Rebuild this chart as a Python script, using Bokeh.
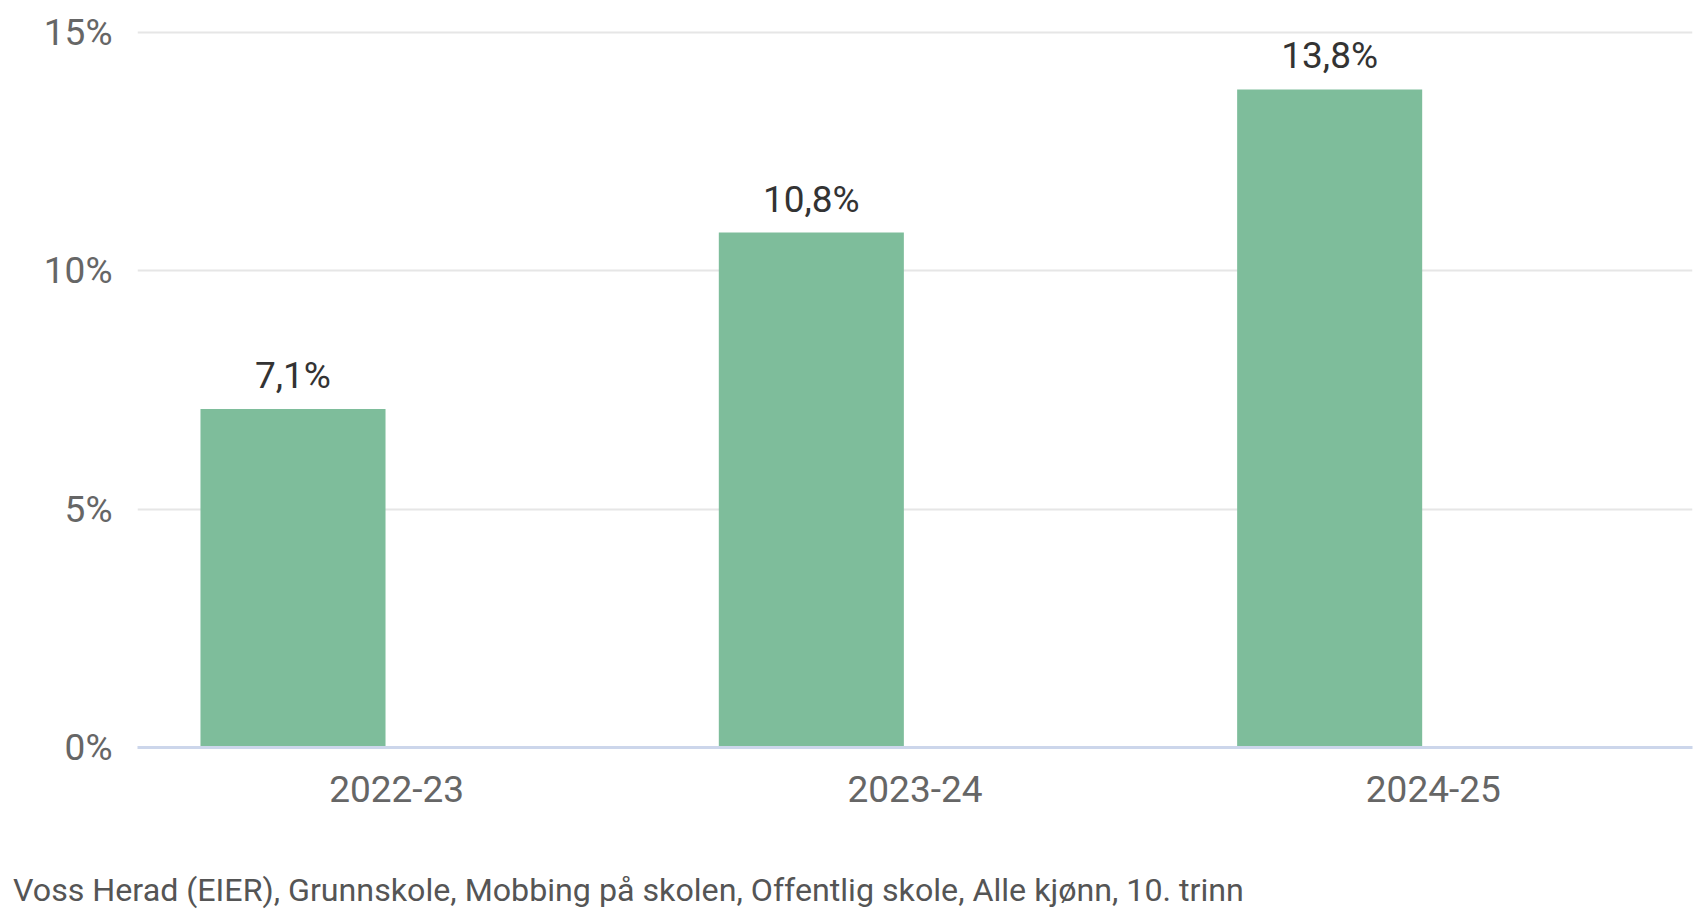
from bokeh.plotting import figure
from bokeh.models import ColumnDataSource, FactorRange, Range1d, FixedTicker, PrintfTickFormatter, LabelSet, Div
from bokeh.layouts import column
from bokeh.transform import dodge
from bokeh.core.properties import value
from bokeh.embed import file_html
from bokeh.resources import INLINE

categories = ["2022-23", "2023-24", "2024-25"]
values = [7.1, 10.8, 13.8]
y_ticks = [0, 5, 10, 15]
footnote = "Voss Herad (EIER), Grunnskole, Mobbing på skolen, Offentlig skole, Alle kjønn, 10. trinn"

labels = [f"{v:.1f}".replace(".", ",") + "%" for v in values]
source = ColumnDataSource(dict(cat=categories, val=values, lab=labels))

FONT = "Roboto"

p = figure(
    width=1699, height=850,
    x_range=FactorRange(*categories, range_padding=0),
    y_range=Range1d(0, 15.1),
    output_backend="svg", toolbar_location=None,
    min_border_left=137, min_border_right=7, min_border_top=27, min_border_bottom=103,
)
p.outline_line_color = None
p.background_fill_color = "white"
p.border_fill_color = "white"

xpos = dodge("cat", -0.2, range=p.x_range)
p.vbar(x=xpos, top="val", bottom=0, width=0.357, source=source,
       fill_color="#7ebd9b", line_color=None)

ls = LabelSet(x=xpos, y="val", text="lab", source=source,
              text_align="center", text_baseline="alphabetic", y_offset=21,
              text_font=value(FONT), text_font_size="37px", text_color="#333333")
p.add_layout(ls)

# axes
p.xgrid.grid_line_color = None
p.ygrid.grid_line_color = "#e6e6e6"
p.ygrid.grid_line_width = 2
p.yaxis.ticker = FixedTicker(ticks=y_ticks)
p.yaxis.formatter = PrintfTickFormatter(format="%d%%")
p.yaxis.axis_line_color = None
p.yaxis.major_tick_line_color = None
p.yaxis.minor_tick_line_color = None
p.yaxis.major_tick_out = 0
p.yaxis.major_label_standoff = 25
p.yaxis.major_label_text_font = FONT
p.yaxis.major_label_text_font_size = "37px"
p.yaxis.major_label_text_color = "#666666"

p.xaxis.axis_line_color = "#ccd6eb"
p.xaxis.axis_line_width = 3
p.xaxis.major_tick_line_color = None
p.xaxis.minor_tick_line_color = None
p.xaxis.major_tick_out = 0
p.xaxis.major_label_standoff = 28
p.xaxis.major_label_text_font = FONT
p.xaxis.major_label_text_font_size = "37px"
p.xaxis.major_label_text_color = "#666666"

note = Div(text=footnote, width=1699, height=63, margin=(0, 0, 0, 0),
           styles={"font-family": FONT, "font-size": "32.2px", "color": "#555555",
                   "line-height": "40px", "padding-top": "20px", "padding-left": "13px",
                   "white-space": "nowrap", "background": "white"})

layout = column(p, note, spacing=0)
open("out.html", "w").write(file_html(layout, INLINE))
